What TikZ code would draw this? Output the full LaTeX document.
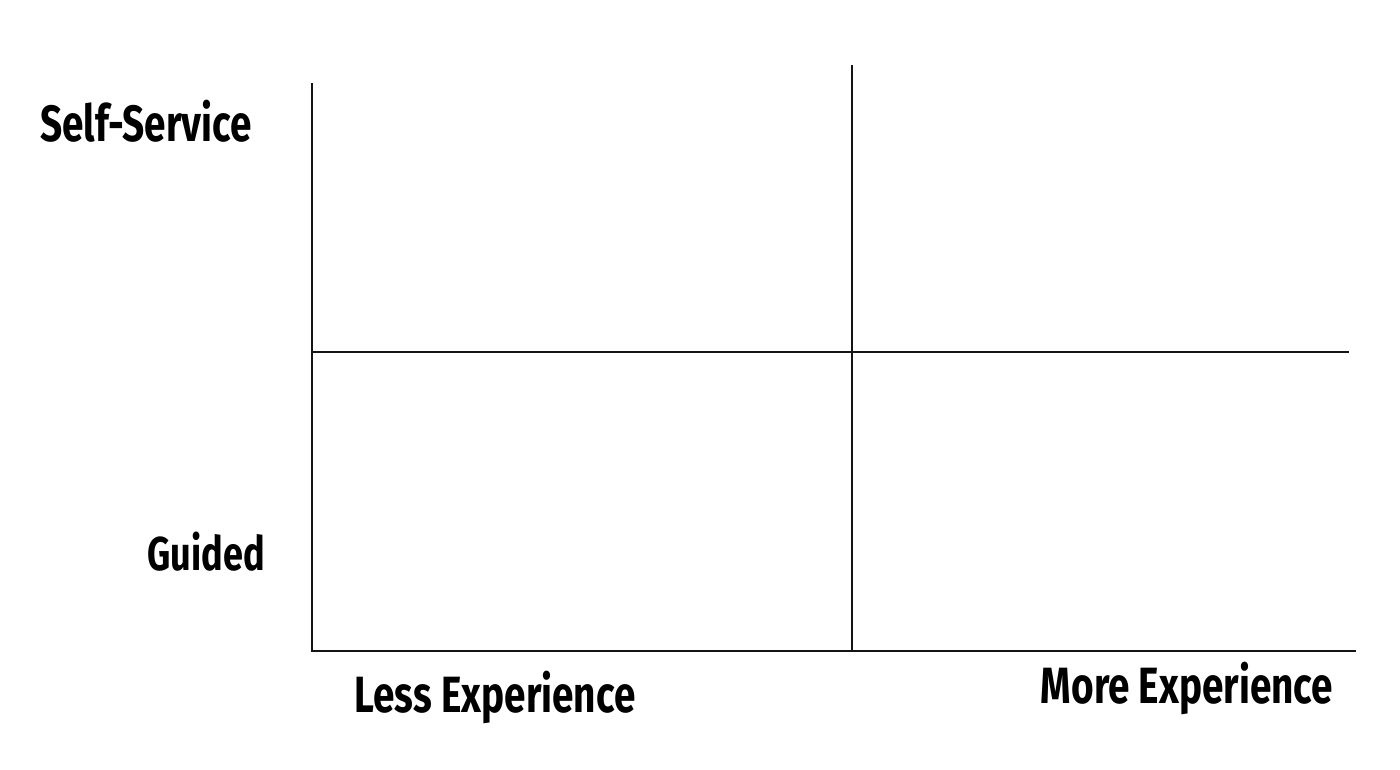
\documentclass[tikz,border=0pt]{standalone}
\usepackage{fontspec}
\setmainfont[FakeStretch=0.76]{Fira Sans}
\usepackage{tikz}
\usetikzlibrary{positioning}
\definecolor{axiscolor}{RGB}{20, 20, 20}
\definecolor{labelcolor}{RGB}{0, 0, 0}
\tikzset{
axislabel/.style={
  font=\bfseries\fontsize{14.5}{17}\selectfont,
  text=labelcolor,
  anchor=base,
  inner sep=0pt
},
axisline/.style={
  draw=axiscolor,
  line width=0.8pt
}
}
\begin{document}
\begin{tikzpicture}[x=0.01cm, y=-0.01cm]
      \useasboundingbox (0,0) rectangle (1400,770);

      % corners of the grid
      \coordinate (lefttop) at (312,83);
      \coordinate (origin) at (312,651);
      \coordinate (bottomend) at (1356,651);
      \coordinate (midtop) at (852,65);
      \coordinate (midbottom) at (852,651);
      \coordinate (midleft) at (312,352);
      \coordinate (midright) at (1349,352);

      \draw[axisline] (lefttop) -- (origin) -- (bottomend);
      \draw[axisline] (midtop) -- (midbottom);
      \draw[axisline] (midleft) -- (midright);

      % labels
      \node[axislabel] (selfservice) at (146,142) {Self-Service};
      \node[axislabel, font=\bfseries\fontsize{13.5}{16}\selectfont] (guided) at (206,570) {Guided};
      \node[axislabel] (lessexp) at (495,712) {Less Experience};
      \node[axislabel] (moreexp) at (1187,703) {More Experience};
    \end{tikzpicture}
\end{document}
